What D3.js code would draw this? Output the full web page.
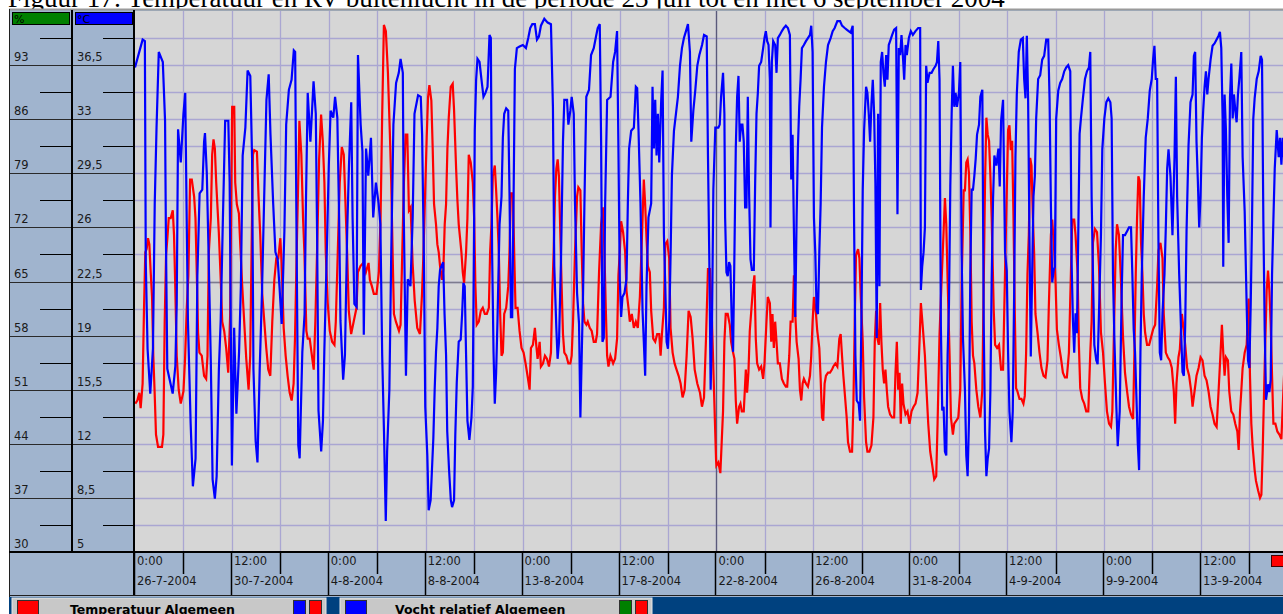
<!DOCTYPE html>
<html>
<head>
<meta charset="utf-8">
<script src="https://cdn.jsdelivr.net/npm/d3@7"></script>
<style>
  html, body { margin: 0; padding: 0; background: #fff; }
  svg { display: block; font-family: "DejaVu Sans", Verdana, sans-serif; }
</style>
</head>
<body>
<svg id="chart" width="1283" height="614"></svg>
<script>
// ---- data ----
const TITLE = "Figuur 17:  Temperatuur en RV buitenlucht in de periode 23 juli tot en met 6 september 2004";
const START = new Date(2004, 6, 26, 0, 0);
const HOURS_SHOWN = 1279.5;          // hours visible in the window
const GRID_STEP_HOURS = 54;          // vertical grid every 2.25 days
const LABEL_STEP_HOURS = 108;        // labelled ticks every 4.5 days
const CURSOR_HOUR = 648;             // 22-8-2004 0:00
const CURSOR_RH = 65;

const rhLabels = [30, 37, 44, 51, 58, 65, 72, 79, 86, 93];
const tempLabels = [5, 8.5, 12, 15.5, 19, 22.5, 26, 29.5, 33, 36.5];
const rhDomain = [30, 100];
const tempDomain = [5, 40];

const legendItems = [
  { name: "Temperatuur Algemeen", color: "#ff0000", flags: ["#0000ff", "#ff0000"] },
  { name: "Vocht relatief Algemeen", color: "#0000ff", flags: ["#008000", "#ff0000"] }
];

// [hours since 26-7-2004 0:00, relative humidity %]
const humidity = [
[0,92.7],[8.5,96.3],[11,96.1],[12,67.5],[14,56.3],[17,50.5],[20,56.3],[22,75.1],[24,84.9],[26.5,94.7],[31,93.4],[33.5,85.8],[34.5,70.2],[36,53.7],[42,50.5],[45,54.1],[46.5,62.1],[48,84.7],[51,80.4],[54,86.7],[56,89.4],[57.5,74.2],[59,59.9],[62,46.7],[64.5,38.5],[67.5,42.1],[69.5,65.7],[72,76.4],[75,76.9],[77,83.1],[78,84.2],[80,79.1],[82,68.8],[84.5,54.6],[86.5,39.4],[89,36.9],[91,39.8],[93.5,53.7],[95.5,59.9],[98,73.3],[100.5,85.8],[104,85.8],[105.5,77.8],[108,41.2],[110.5,59],[113,47.9],[116,55.9],[118,64.4],[120,81.3],[123,84.9],[125.5,92.3],[128.5,91.6],[130.5,80.9],[132,53.7],[134.5,44.3],[136.5,41.6],[139,53.7],[141.5,63.5],[144,76],[146.5,88.5],[149,91.8],[151,84],[154,75.1],[156.5,68.8],[159,67.9],[161,64.4],[163.5,59.5],[166.5,71.5],[168.5,85.3],[171.5,89.8],[174.5,91.1],[177,94.9],[178.5,94.7],[180,71.5],[182,43.8],[183.5,42.1],[186.5,55.9],[189,60.8],[190.5,75.1],[192.5,89.4],[195.5,83.1],[199,90.9],[201.5,86.7],[203,70.6],[204.5,48.3],[207.5,43],[209.5,47],[211,55.9],[213.5,67.5],[216,80],[218,87.1],[221,86.2],[223,88.9],[225.5,86.2],[227.5,73.3],[229,59.9],[232,52.3],[234,55.5],[236.5,71.5],[238.5,80],[241,88.2],[242.5,73.3],[244.5,62.1],[247,61.7],[248.5,94.3],[251.5,85.3],[253.5,81.8],[255,58.1],[257.5,82.2],[260,78.7],[263,83.6],[265.5,73.3],[268.5,77.8],[271.5,75.1],[273.5,72.4],[275.5,55.5],[277.5,45.6],[279.5,34],[281,43],[283.5,51],[285.5,67.9],[288,85.3],[291,90.7],[294,92],[296,93.8],[298.5,92],[299.5,74.2],[302,52.8],[304,65.3],[307,64.4],[309.5,73.3],[311.5,86.7],[315.5,89.1],[318.5,88.9],[320,84],[322,67.9],[323.5,48.8],
[325.8,42.5],[327.3,35.4],[329.5,36.7],[331,40.7],[332.5,44.7],[334,51],[335.5,55.9],[337,59],[338.5,64.4],[340,66.5],[341.5,67],[343.5,67.5],[345,60.8],[346.7,55.5],[348,45.6],[350,40.7],[352,36.7],[353.4,35.8],[355.6,36.7],[357,45.2],[358.6,51.9],[360.8,57.2],[363,57.5],[364.6,60.8],[366,64.8],[367.5,64.4],[369,55.5],[370.5,47],[372.7,44.5],[375,47.4],[376.5,51.4],[378,73.3],[378.7,84.5],[380.2,91.1],[381.7,93.8],[384,93.4],[386.2,91.1],[388.4,88.9],[390.6,89.4],[392.9,90.2],[395.1,96.9],[396.6,96.5],[398,68.8],[399.6,55.9],[401,49.2],[402.5,53.2],[404,59.9],[406.3,72.4],[408.5,76],[410,83.6],[411.5,86.7],[413.7,87.4],[416,87.1],[417.4,76.4],[419,60.4],[420.4,60.4],[422,76.4],[423.4,92.5],[425.6,95.2],[428.6,95.4],[432.3,95.6],[435.7,95.2],[438.3,96.5],[440.5,97.8],[442.8,98.3],[445.7,98.3],[448,96.3],[450.2,96.7],[452.4,98.1],[456.2,99],[459.9,98.5],[463.6,98.3],[465.8,87.6],[467.3,67],[469.6,59],[471,55],[472.6,57.2],[474.8,67.9],[477,83.1],[478.5,88.5],[481.5,88.5],[483,85.3],[485.2,87.1],[486.7,88.9],[489,86.7],[490.4,75.1],[492.7,63.5],[494.9,59.5],[496.4,47.4],[497.9,55.5],[499.4,63.5],[500.9,75.1],[503,88.9],[506,89.8],[508.3,94.3],[511.3,95.2],[513.5,96.5],[515.7,97.8],[518,98.3],[519.5,83.1],[521,57.2],[522.5,57.7],[524,75.1],[526.2,88.5],[530,88.9],[532.9,93.4],[535.1,94.7],[537.3,97.4],[538.8,82.2],[540.3,65.3],[541.8,60.4],[543.3,63],[545.5,63.5],[547.8,65.3],[549.3,75.1],[550.7,82.2],[553,84.5],[556,84.9],[558.2,90.2],[559.7,90],[561.2,84.5],[563.4,75.1],[565.7,61.2],[567.1,57.2],[568.6,52.8],[570.1,64.4],[572.3,73.3],[575.3,75.1],[576.8,90.2],[578.3,82.2],[579.8,88.5],[581.3,81.3],[582.8,86.7],[584.3,80.4],[586.5,88.5],[588,92.3],[589.5,71.1],[591,64.4],[592.5,57.2],[594,56.3],[595.5,59.9],[597,68.8],[598.4,78.7],[600.7,84.5],[602.9,86.7],[605.1,88.9],[607.4,92.9],[609.6,95.2],[611.8,96.5],[614.1,97.4],[616.3,98.3],[618.5,94.7],[620,83.1],[622.3,87.1],[624.5,89.8],[626.7,92.9],[629,94.3],[632,95.6],[634.2,96.9],[637.2,96.7],[638.6,81.3],[640.1,67.9],[641.6,51],[643.1,59.9],[644.6,76.9],[646.8,84.9],
[648,84.9],[650.2,84.9],[651.7,85.3],[653.2,88.9],[655.4,92],[656.9,86.7],[657.7,73.3],[659.2,66.2],[660.6,65.7],[662.1,67.5],[663.6,67],[665.1,59.9],[666.6,55.9],[668.1,68.8],[669.6,82.2],[671.1,88.9],[672.6,91.6],[674,83.1],[675.5,85.3],[677,85.3],[678.5,83.1],[680,74.6],[681.5,74.6],[683,88.9],[684.5,76],[686,67.9],[687.5,66.5],[689.7,66.5],[691.2,77.8],[692.7,86.7],[694.2,89.4],[695.6,92.9],[697.9,93.4],[700.1,95.2],[701.6,96.5],[703.1,97.4],[704.6,96.1],[706.1,95.6],[707.6,91.1],[708.3,72],[709.8,93.4],[711.3,96.1],[713.5,95.6],[715,92],[716.5,96.5],[718.7,96.9],[721,97.4],[723.2,97.8],[725.4,98.1],[727.7,97.8],[729.9,96.9],[731.4,78.2],[732.9,84],[734.4,71.5],[735.9,60.4],[737.4,73.3],[738.8,82.2],[740.3,87.6],[741.8,91.1],[743.3,95.2],[745.5,95.6],[747.8,96.1],[750,96.5],[752.3,96.9],[753.7,98.1],[755.2,94.7],[756.7,73.3],[758.2,68.8],[759.7,61.2],[761.2,60.8],[762.7,68.8],[764.2,75.1],[765.7,84.9],[767.9,90.2],[770.1,93.4],[772.4,95.6],[775.3,96.5],[777.6,97.4],[779.8,97.8],[782.8,98.7],[785.8,98.7],[788,98.1],[791,97.8],[793.2,97.6],[795.4,97.4],[797.7,97.2],[799.9,98.1],[801.4,73.3],[802.9,55.5],[804.4,49.6],[806.6,49.2],[808.1,47],[809.6,59.9],[811.1,76.9],[812.6,84.5],[814.8,90.2],[816.3,89.4],[817.8,86.7],[819.3,83.1],[820.8,88],[822.3,91.1],[823.8,86.7],[825.2,77.8],[826.7,57.7],[828.2,86.7],[829.7,64.4],[831.2,93.4],[832.7,94.7],[834.2,92],[835.7,90.2],[837.2,94.3],[838.6,91.1],[840.1,95.6],[841.6,96.1],[843.9,96.9],[846.1,97.6],[848.3,97.8],[849.8,73.7],[851.3,95.2],[852.8,94.3],[854.3,96.9],[855.8,94.3],[857.3,91.1],[858.8,95.6],[860.2,94.3],[862.5,96.5],[864.7,97.4],[867,96.9],[869.9,97.4],[872.9,97.8],[875.1,97.8],[875.9,63.9],[877.4,67],[878.9,68.8],[880.4,72],[881.8,92.9],[883.3,90.7],[885.6,92],[887.8,92],[890,92.5],[892.3,92.9],[893.8,93.4],[895.3,96.1],[896.7,91.1],[898.2,59],[899.7,48.3],[901.2,48.8],[902.7,43],[904.2,42.5],[905.7,55.5],[907.2,62.1],[908.7,77.3],[910.2,86.7],[911.6,92.9],[913.1,87.6],[914.6,89.4],[916.1,87.6],[918.3,89.4],[919.8,93.4],[921.3,68.8],[922.8,57.7],[925,51],[926.5,42.5],[928,39.8],[929.5,47],[931,66.2],[932.5,76.9],[934,76.9],[935.5,78.7],[937,80.9],[938.5,84],[940.7,85.3],[942.2,88.9],[944.4,89.8],[945.9,59.9],[947.4,45.6],[948.9,39.8],[950.4,42.1],[951.9,43.4],[953.4,51],[954.8,65.3],[956.3,75.5],[957.8,81.3],[960,80],[962.3,82.2],[963.8,77.3],[965.3,85.8],[967.5,88.5],[969.7,68.8],
[971.6,66.4],[973.1,55.8],[974.6,48.2],[976.8,44.2],[978.3,48.2],[979.8,62.9],[981.3,81.1],[982.8,89.2],[985,94.7],[987.3,96.3],[989.5,96.5],[991,91.2],[992.5,88.7],[994,96.8],[995.4,88.7],[996.9,71],[998.4,55.3],[999.9,65.9],[1001.4,76],[1002.9,78.6],[1004.4,86.1],[1006.6,91.2],[1008.9,91.7],[1011.1,93.7],[1013.3,94.2],[1015.6,96.3],[1017.8,96.3],[1019.3,88.7],[1020.8,75],[1022.3,64.9],[1023.8,66.4],[1025.2,66.9],[1026.7,86.1],[1029,89.7],[1031.2,90.7],[1033.4,91.2],[1035.7,92.2],[1037.9,92.7],[1040.1,93],[1042.4,92.2],[1043.9,67.4],[1045.4,59.8],[1046.8,55.8],[1048.3,60.9],[1049.8,58.3],[1051.3,71],[1052.8,84.1],[1054.3,86.1],[1056.5,88.7],[1058.8,91.2],[1061,92.2],[1063.2,92.7],[1064.7,94.7],[1066.2,76],[1067.7,65.9],[1069.2,56.8],[1071.4,54.8],[1072.9,54.3],[1074.4,60.9],[1076.6,71],[1078.1,82.1],[1080.4,86.1],[1082.6,88.2],[1084.8,88.7],[1087.1,88.2],[1088.5,86.1],[1090,65.9],[1091.5,57.8],[1093.8,48.7],[1095.3,43.7],[1097.5,48.2],[1099.7,63.4],[1101.2,71],[1103.4,71],[1105.7,71.5],[1107.9,72],[1110.1,72],[1111.6,65.9],[1113.1,58.8],[1114.6,55.8],[1116.1,50.2],[1117.6,44.2],[1119.1,40.6],[1120.6,55.8],[1122.1,65.9],[1124.3,76],[1126.5,83.6],[1128.8,86.1],[1131,89.7],[1133.2,91.2],[1134.7,93.7],[1136.2,95.5],[1137.7,91.2],[1139.2,91.2],[1140.7,70],[1142.2,55.8],[1143.7,54.8],[1145.2,60.9],[1147.4,65.9],[1148.9,72],[1150.4,79.6],[1151.9,82.1],[1154.1,78.6],[1156.3,71],[1158.6,81.1],[1160.1,91.5],[1161.5,76],[1163.8,65.9],[1166,58.3],[1167.5,53.3],[1169,52.8],[1170.5,59.3],[1172,71.5],[1174.2,82.6],[1176.4,88.2],[1178.7,89.2],[1180.2,94.2],[1181.6,94.7],[1183.1,83.1],[1184.6,78],[1186.1,72],[1187.6,76],[1189.1,83.6],[1190.6,87.2],[1192.1,90.2],[1193.6,92.2],[1195.1,89.2],[1196.5,91.2],[1198.8,93.7],[1201,95.5],[1203.2,95.8],[1205.5,96.3],[1207.7,96.8],[1209.2,97.3],[1210.7,95.2],[1212.2,86.1],[1212.9,66.9],[1214.4,89.2],[1215.9,84.6],[1217.4,76],[1218.9,70],[1220.4,88.7],[1221.9,93.2],[1223.4,86.1],[1224.8,89.2],[1226.3,87.2],[1227.8,85.6],[1229.3,89.2],[1230.8,91.2],[1233,94.7],[1234.5,81.1],[1236.8,74],[1239,61.9],[1240.5,54.8],[1242,53.8],[1243.5,61.9],[1245,73],[1246.4,86.1],[1247.9,88.7],[1250.2,91.2],[1252.4,92.2],[1254.6,94.2],[1256.1,93.7],[1257.6,73],[1259.1,58.8],[1260.6,49.7],[1262.8,51.7],[1264.3,50.7],[1265.8,52.3],[1267.3,65.9],[1268.8,73],[1270.3,79.6],[1272.5,84.6],[1274.7,81.1],[1276.2,83.6],[1277.7,80.1],[1279.2,83.6],[1280.7,81.1],[1282.6,67.9]
];

// [hours since 26-7-2004 0:00, temperature °C]
const temperature = [
[0.3,14.6],[2.6,14.8],[4.8,15.3],[6.3,14.3],[8.5,15.9],[10,20.6],[11.5,24.4],[13,24.6],[14.5,25.3],[16,24.9],[17.5,23.1],[19,21.5],[20.4,17.7],[21.9,15.3],[23.4,12.6],[25.7,11.8],[30.1,11.8],[31.6,12.6],[33.1,19.9],[34.6,24.2],[36.1,25.3],[37.6,26.6],[39.8,26.6],[42.1,27.1],[43.5,25.5],[44.7,22.6],[46.5,17.7],[48.7,15.5],[51,14.6],[54,15.4],[55.8,17.5],[57.7,20.8],[59.5,22.9],[61.4,29.1],[63.3,29.1],[65.9,28],[67.4,26.6],[68.9,22.9],[70.3,19.2],[71.8,17.9],[74.4,17.7],[77,16.4],[79.3,16.2],[80.8,17.7],[82.3,24.4],[84.5,26.6],[86,30.7],[87.5,31.7],[89,31.1],[90.5,28.9],[93.4,25.7],[95.7,22.4],[97.2,19.9],[99.4,19.3],[101.6,18.2],[103.9,16.6],[106.1,20.4],[107.2,27.5],[108.3,33.8],[110.6,33.8],[111.7,28.9],[113.5,27.5],[115.8,26.9],[117.3,24.9],[119.5,22.2],[121.7,19.9],[124,17.5],[126.6,15.5],[128.4,17.7],[129.9,24.4],[131.4,30.7],[132.9,31],[135.9,30.9],[137.7,28],[139.6,25.5],[141.8,21.7],[144.1,19.9],[146.3,18.2],[148.5,16.8],[150.8,16.4],[153,19.9],[155.3,22.6],[157.5,24],[159.7,24],[162,25.3],[163.4,23.7],[165.7,19.5],[167.9,17.7],[170.1,16.4],[172.4,15.3],[174.6,14.8],[176.8,15.9],[178.3,18.8],[180.6,25.5],[182.1,29.5],[183.2,32.9],[185.4,30.7],[187.3,26.6],[188.8,24.4],[191,19.3],[192.5,18.8],[194.7,18.8],[199.2,16.8],[201,19.9],[202.9,24.4],[205.2,30.4],[207.4,33.3],[209.3,31.6],[211.1,28.9],[212.6,24.4],[214.8,21.1],[217.1,19.3],[219.7,18.6],[222.3,18.4],[223.8,19.9],[226,24.4],[228.2,28.9],[230.5,31.2],[232.7,30.7],[234.6,27.5],[236.4,24.4],[238.3,20.6],[240.9,19.1],[246.9,20.8],[248.4,23.1],[251.3,23.5],[254.3,23.7],[257.3,23.1],[260.3,23.7],[261.8,22.6],[264,22.2],[266.2,21.7],[269.2,21.7],[271.8,23.1],[273.7,26.6],[275.5,33.3],[277.4,39.1],[279.6,38.7],[281.9,36],[284.1,32],[285.6,28.9],[287.1,24.4],[288.6,20.4],[290.8,19.9],[294.2,19.3],[296,19.7],[297.9,24.4],[299.7,28.9],[301.6,32],[303.5,32],[305.3,27.1],[307.2,27.3],[309.4,23.7],[311.7,21.3],[314.6,19.5],[317.6,19.1],[319.9,21.7],[321.3,24],
[325.1,31.8],[326.6,34.4],[328.1,35.2],[330.3,34.2],[331.8,31.1],[333.3,27.5],[335.5,26.2],[337,24.9],[338.5,24.4],[340,23.5],[342.2,22.6],[343.7,23.3],[345.2,26.2],[346.7,27.5],[348.2,31.1],[349.7,33.1],[351.9,35.1],[354.1,35.3],[355.6,33.6],[357.9,29.8],[359.3,27.8],[360.8,26.2],[362.3,25.3],[363.8,24.4],[365.3,23.1],[366.8,22.4],[369,24.4],[370.5,26.6],[372,30.7],[374.2,30.2],[376.5,28.9],[378,26.6],[379.4,22.2],[380.9,19.7],[383.2,19.9],[385.4,20.6],[387.6,20.8],[389.9,20.4],[392.1,20.4],[394.4,20.8],[395.8,24.4],[397.3,26.2],[398.8,29.3],[401,30],[402.5,28.4],[404,26.6],[405.5,24.4],[407,20.4],[408.5,17.7],[410,17.9],[411.5,20.4],[413.7,20.8],[416,22.2],[417.4,24.4],[418.9,28.2],[421.2,28.2],[422.6,24.4],[424.1,20.8],[426.4,20.8],[428.6,19.3],[430.8,18.2],[433.1,17.9],[435.3,17.2],[437.5,16.4],[439.8,15.5],[441.3,18.2],[443.5,18.4],[445.7,19.5],[447.2,18.4],[448.7,17.5],[451,18.6],[452.4,17],[454.7,17.2],[456.9,17.7],[459.1,17.5],[461.4,17],[463.6,17.9],[465.1,21.7],[466.6,24.4],[468.1,28],[469.6,29.8],[471.1,30.4],[472.5,29.3],[474,25.7],[475.5,22.2],[477,19.1],[478.5,17.9],[480.7,17.7],[483,17.2],[485.2,17.2],[486.7,17.7],[488.2,19.9],[490.4,24.4],[492.7,28],[494.1,28.6],[496.4,28.4],[497.9,24.4],[499.4,21.1],[500.9,19.9],[503.1,19.7],[504.6,19.9],[506.8,19.5],[509,19.3],[511.3,18.6],[513.5,18.6],[515,19.1],[517.2,23.1],[519.5,26.2],[521.7,27.3],[523.2,24.4],[524.7,20.8],[526.2,17.7],[527.7,17],[529.9,17.7],[532.9,17.2],[535.1,17.5],[537.3,18.8],[538.8,22.9],[540.3,24.4],[541.8,26.4],[544,25.7],[546.3,24.4],[547.8,21.9],[550,20.8],[551.5,19.9],[553.7,20.4],[556,19.5],[558.2,19.9],[560.4,19.5],[562.7,21.5],[564.2,24],[565.7,26.6],[567.1,29.1],[568.6,27.5],[570.1,25.3],[571.6,23.5],[573.8,23.1],[575.3,20.6],[577.6,18.8],[579.8,18.6],[582,19.1],[584.3,19.1],[585.8,17.7],[587.3,19.1],[589.5,20.8],[591,24.9],[593.2,25.1],[595.4,24],[596.9,19.5],[599.2,17.9],[601.4,17.2],[603.6,16.8],[605.9,16.4],[608.1,15.9],[610.3,15],[612.6,15.5],[614.8,17.7],[617,20.6],[619.3,20.2],[621.5,18.8],[623.8,16.8],[626.7,15.9],[629.7,15.3],[631.9,14.4],[634.2,15],[636.4,18.8],[638.6,23.3],[640.9,23.3],[643.1,19.9],[645.3,15.5],[647.6,11],
[648,10.6],[650.2,10.8],[652.4,10.1],[653.9,12.1],[655.4,14.1],[656.9,18.6],[658.4,20.4],[660.6,20.4],[662.9,19.7],[664.4,18.6],[666.6,17.9],[668.1,17.5],[669.6,14.8],[671.1,13.3],[673.3,14.4],[674.8,14.6],[676.3,14.1],[678.5,14.1],[680.8,16.8],[682.2,15.3],[683.7,16.6],[685.2,19.3],[687.5,21.1],[688.9,22.2],[690.4,22.9],[691.9,18.8],[693.4,17.2],[695.6,16.8],[697.9,17],[700.1,16.2],[701.6,17.2],[703.8,19.9],[705.3,21.5],[707.6,21.1],[709.1,18.6],[710.5,20.4],[712,18.2],[713.5,19.9],[715,18.6],[716.5,17.2],[718.7,17.2],[721,16.2],[723.2,15.9],[725.4,15.7],[726.9,15.7],[729.2,17.7],[730.7,19.9],[732.9,19.9],[734.4,22.9],[735.9,20.4],[737.4,18.6],[739.6,17.5],[741.1,15.5],[742.6,14.8],[744.1,15.9],[745.5,16.2],[747.8,15.9],[750,15.7],[752.3,16.4],[753.7,17.7],[755.2,19.9],[756.7,21.5],[759,20.4],[760.4,19.3],[762.7,18.2],[764.2,16.2],[765.7,13.7],[767.1,13.5],[768.6,15.9],[770.1,16.4],[772.4,16.6],[774.6,16.6],[776.8,16.8],[778.3,17],[780.6,17.2],[782.8,17],[785,18.8],[786.5,19.1],[788,17.7],[789.5,16.4],[791.7,14.8],[793.2,13.7],[794.7,12.1],[796.9,11.5],[799.2,11.5],[800.7,14.6],[802.2,19.9],[803.6,24.2],[805.9,24.6],[807.4,24],[808.9,21.5],[811.1,18.6],[812.6,15],[814.8,12.1],[816.3,11.5],[818.5,11.5],[820.8,11.9],[823,13.7],[824.5,18.6],[826,20.6],[827.5,18.8],[829,18.4],[830.5,21.1],[831.9,18.6],[833.4,16.8],[834.9,15.9],[836.4,16.8],[837.9,15.5],[839.4,14.4],[841.6,13.9],[843.9,13.7],[846.1,13.7],[847.6,16.6],[849.1,18.6],[850.6,15.5],[852.1,16.6],[853.5,13.3],[855,15.9],[856.5,14.6],[858.8,13.9],[861,14.1],[863.2,13.3],[865.5,14.1],[867.7,14.4],[869.9,14.6],[872.2,15.3],[874.4,18.6],[875.9,21.1],[878.1,19.5],[880.4,17.7],[881.8,15.9],[884.1,13.3],[886.3,11.5],[888.6,10.6],[890.8,9.7],[893,9.9],[894.5,13.3],[896.7,19.1],[899,22.6],[901.2,25.7],[902.7,27.9],[904.2,26.2],[905.7,22.6],[907.9,17.7],[909.4,13.7],[911.6,12.6],[913.1,13.3],[915.4,13.5],[917.6,13.7],[919.8,15.5],[921.3,22.2],[923.6,28.4],[925,28.4],[926.5,30.2],[928,30.4],[929.5,29.5],[931,25.7],[932.5,19.9],[934,17.7],[935.5,17.2],[937.7,15.5],[939.9,14.4],[942.2,13.7],[944.4,15.5],[945.9,22.2],[947.4,28.9],[948.9,33.1],[950.4,32],[951.9,31.6],[953.4,29.3],[954.8,26.6],[957.1,20.6],[958.6,18.4],[960.8,18.2],[963,18.4],[965.3,16.8],[967.5,16.8],[969.7,23.1],
[973.1,32.3],[974.6,32.6],[976.1,31],[977.6,31.6],[979.1,26.7],[980.6,20.4],[982,15.6],[983.5,15.4],[985.8,14.9],[988,14.9],[990.2,14.6],[991.7,15.1],[993.2,17.9],[994.7,23],[996.2,25.5],[997.7,30.5],[999.2,30],[1000.7,26.7],[1002.2,24.2],[1003.6,20.4],[1005.9,19.2],[1008.1,17.9],[1010.3,16.9],[1012.6,16.4],[1014.8,16.3],[1017,17.4],[1018.5,20.9],[1020.8,25.5],[1022.3,26.5],[1024.5,24.5],[1026,22.4],[1027.5,19.4],[1029.7,18.4],[1031.9,17.6],[1034.2,16.6],[1036.4,16.3],[1038.6,16.3],[1040.9,17.9],[1043.1,23],[1044.6,26.5],[1046.8,26.5],[1048.3,25.5],[1050.6,23],[1052,18.4],[1053.5,15.6],[1055.8,14.9],[1058,14.6],[1060.2,14.1],[1062.5,14.1],[1064.7,17.9],[1066.2,19.9],[1067.7,25],[1069.9,25.9],[1072.2,25.7],[1074.4,23.5],[1076.6,19.2],[1078.9,17.9],[1081.1,15.9],[1083.3,14.1],[1085.6,13.3],[1087.8,13.1],[1089.3,14.1],[1091.5,20.4],[1093,24.5],[1094.5,26.2],[1096.7,25.5],[1099,22.4],[1101.2,18.9],[1103.4,16.6],[1105.7,15.4],[1107.9,14.4],[1110.1,13.9],[1112.4,13.6],[1113.9,17.9],[1115.4,23],[1116.8,26.5],[1118.3,29.3],[1119.8,29],[1121.3,25],[1122.8,23],[1124.3,20.4],[1125.8,19.2],[1128,18.4],[1130.3,18.4],[1132.5,18.9],[1134.7,19.4],[1137,19.7],[1139.2,22.2],[1140.7,24.5],[1142.9,25],[1145.2,24],[1146.6,20.4],[1148.9,17.9],[1151.1,17.6],[1153.3,17.4],[1155.6,16.9],[1157.8,15.4],[1159.3,13.3],[1160.8,15.9],[1163,17.6],[1164.5,18.1],[1166.8,20.4],[1168.2,19.7],[1170.5,18.4],[1172.7,16.9],[1174.9,16.4],[1177.2,15.4],[1178.7,14.4],[1180.9,15.4],[1183.1,16.4],[1185.4,16.9],[1187.6,17.6],[1189.8,17.4],[1192.1,16.4],[1194.3,16.1],[1196.5,15.4],[1198.8,14.4],[1201,13.9],[1203.2,13.3],[1205.5,13.1],[1207.7,15.4],[1209.9,17.9],[1211.4,19.7],[1212.9,17.9],[1214.4,16.4],[1215.9,17.6],[1218.1,17.4],[1219.6,15.4],[1221.9,14.1],[1224.1,13.9],[1226.3,13.3],[1228.6,12.8],[1230.1,11.6],[1231.6,14.1],[1233,15.4],[1234.5,16.9],[1236.8,17.9],[1239,18.4],[1241.2,21.4],[1242.7,16.4],[1244.2,13.3],[1245.7,11.8],[1247.9,10.3],[1249.4,9.6],[1251.7,9],[1253.9,8.5],[1255.4,8.7],[1256.9,11.6],[1258.4,15.4],[1259.9,18.9],[1261.3,21.9],[1262.8,23.2],[1264.3,21.9],[1265.8,19.7],[1267.3,16.4],[1268.8,13.3],[1271,13.3],[1273.2,12.8],[1275.5,12.6],[1277.7,12.3],[1279.9,15.4],[1281.4,17.4],[1282.6,17.9]
];

// ---- layout ----
const W = 1283, H = 614;
const plot = { left: 135, right: 1283, top: 11, bottom: 552 };
const PANEL_BG = "#a0b4ce";
const PLOT_BG = "#d6d6d6";
const GRID = "#aaa6d2";
const NAVY = "#00417f";
const LABEL_FONT = 11.5;

const svg = d3.select("#chart");
const atHour = h => new Date(START.getTime() + h * 3600e3);

const x = d3.scaleTime().domain([START, atHour(HOURS_SHOWN)]).range([plot.left, plot.right]);
const yRH = d3.scaleLinear().domain(rhDomain).range([plot.bottom, plot.top]);
const yT = d3.scaleLinear().domain(tempDomain).range([plot.bottom, plot.top]);
const commaNum = v => String(v).replace(".", ",");

// title, partly hidden behind the frame like in the scan
svg.append("text")
  .attr("x", 8).attr("y", 7)
  .attr("font-family", "'Liberation Serif', 'Times New Roman', serif")
  .attr("font-size", 27)
  .text(TITLE);

// frame
svg.append("rect").attr("x", 9).attr("y", 9).attr("width", W - 9).attr("height", 589).attr("fill", PANEL_BG);
svg.append("line").attr("x1", 9).attr("x2", W).attr("y1", 9.5).attr("y2", 9.5)
  .attr("stroke", "#9a9a9a").attr("stroke-width", 2);
svg.append("line").attr("x1", 9.5).attr("x2", 9.5).attr("y1", 9).attr("y2", 597)
  .attr("stroke", "#202020");

// plot area
svg.append("rect")
  .attr("x", plot.left).attr("y", plot.top)
  .attr("width", plot.right - plot.left).attr("height", plot.bottom - plot.top)
  .attr("fill", PLOT_BG);

const gridG = svg.append("g");
gridG.selectAll(".hgrid")
  .data(d3.range(rhDomain[0] + 3.5, rhDomain[1], 3.5))
  .join("line")
  .attr("x1", plot.left).attr("x2", plot.right)
  .attr("y1", d => Math.round(yRH(d)) + 0.5).attr("y2", d => Math.round(yRH(d)) + 0.5)
  .attr("stroke", GRID).attr("stroke-width", 1.3);

const gridHours = d3.range(GRID_STEP_HOURS, HOURS_SHOWN, GRID_STEP_HOURS);
gridG.selectAll(".vgrid")
  .data(gridHours)
  .join("line")
  .attr("x1", d => Math.round(x(atHour(d))) + 0.5).attr("x2", d => Math.round(x(atHour(d))) + 0.5)
  .attr("y1", plot.top).attr("y2", plot.bottom)
  .attr("stroke", GRID).attr("stroke-width", 1.3);

// cursor lines
gridG.append("line")
  .attr("x1", plot.left).attr("x2", plot.right)
  .attr("y1", Math.round(yRH(CURSOR_RH)) + 0.5).attr("y2", Math.round(yRH(CURSOR_RH)) + 0.5)
  .attr("stroke", "#7d7b8e").attr("stroke-width", 1.3);
gridG.append("line")
  .attr("x1", Math.round(x(atHour(CURSOR_HOUR))) + 0.5).attr("x2", Math.round(x(atHour(CURSOR_HOUR))) + 0.5)
  .attr("y1", plot.top).attr("y2", plot.bottom)
  .attr("stroke", "#5a5a7a").attr("stroke-width", 1.3);

// series
svg.append("clipPath").attr("id", "plotClip").append("rect")
  .attr("x", plot.left).attr("y", plot.top)
  .attr("width", plot.right - plot.left).attr("height", plot.bottom - plot.top);

const tempLine = d3.line().x(d => x(atHour(d[0]))).y(d => yT(d[1]));
const rhLine = d3.line().x(d => x(atHour(d[0]))).y(d => yRH(d[1]));
const seriesG = svg.append("g").attr("clip-path", "url(#plotClip)");
seriesG.append("path").datum(temperature)
  .attr("d", tempLine).attr("fill", "none").attr("stroke", "#ff0000")
  .attr("stroke-width", 2.2).attr("stroke-linejoin", "miter");
seriesG.append("path").datum(humidity)
  .attr("d", rhLine).attr("fill", "none").attr("stroke", "#0000ff")
  .attr("stroke-width", 2.2).attr("stroke-linejoin", "miter");

// left value panels
function valuePanel(x0, x1, scale, labels, step, fmt, headColor, headText) {
  const g = svg.append("g");
  g.selectAll(".major").data(labels).join("line")
    .attr("x1", x0).attr("x2", x1)
    .attr("y1", d => Math.round(scale(d)) + 0.5).attr("y2", d => Math.round(scale(d)) + 0.5)
    .attr("stroke", "#2a2a2a");
  g.selectAll(".minor").data(labels.map(d => d + step / 2)).join("line")
    .attr("x1", x1 - 31).attr("x2", x1)
    .attr("y1", d => Math.round(scale(d)) + 0.5).attr("y2", d => Math.round(scale(d)) + 0.5)
    .attr("stroke", "#000");
  g.selectAll("text").data(labels).join("text")
    .attr("x", x0 + 4).attr("y", d => Math.round(scale(d)) - 4)
    .attr("font-size", LABEL_FONT).attr("fill", "#1a1a1a")
    .text(fmt);
  g.append("rect").attr("x", x0 + 2.5).attr("y", 12.5).attr("width", x1 - x0 - 4).attr("height", 12)
    .attr("fill", headColor).attr("stroke", "#000");
  g.append("text").attr("x", x0 + 4).attr("y", 23).attr("font-size", 11).attr("fill", "#000").text(headText);
}
valuePanel(10, 71, yRH, rhLabels, 7, d => d, "#008000", "%");
valuePanel(73, 134, yT, tempLabels, 3.5, commaNum, "#0000ff", "°C");
svg.append("line").attr("x1", 72).attr("x2", 72).attr("y1", 10).attr("y2", plot.bottom)
  .attr("stroke", "#000").attr("stroke-width", 2);
svg.append("line").attr("x1", 134).attr("x2", 134).attr("y1", 10).attr("y2", 595)
  .attr("stroke", "#000").attr("stroke-width", 2);

// time axis band
const axisTop = plot.bottom, axisBottom = 595;
svg.append("line").attr("x1", 9).attr("x2", W).attr("y1", axisTop).attr("y2", axisTop)
  .attr("stroke", "#000").attr("stroke-width", 2);
svg.append("line").attr("x1", 9).attr("x2", W).attr("y1", axisBottom + 0.5).attr("y2", axisBottom + 0.5)
  .attr("stroke", "#202020");

const labelHours = d3.range(0, HOURS_SHOWN, LABEL_STEP_HOURS);
const fmtTime = d3.timeFormat("%-H:%M");
const fmtDate = d3.timeFormat("%-d-%-m-%Y");
const axisG = svg.append("g");
axisG.selectAll(".sep").data(labelHours).join("line")
  .attr("x1", d => Math.round(x(atHour(d))) - 0.5).attr("x2", d => Math.round(x(atHour(d))) - 0.5)
  .attr("y1", axisTop).attr("y2", axisBottom)
  .attr("stroke", "#000").attr("stroke-width", 1.5);
axisG.selectAll(".mid").data(labelHours.map(h => h + GRID_STEP_HOURS).filter(h => h < HOURS_SHOWN)).join("line")
  .attr("x1", d => Math.round(x(atHour(d))) + 0.5).attr("x2", d => Math.round(x(atHour(d))) + 0.5)
  .attr("y1", axisTop).attr("y2", axisTop + 22)
  .attr("stroke", "#000").attr("stroke-width", 1.5);
axisG.selectAll(".tlab").data(labelHours).join("text")
  .attr("x", d => x(atHour(d)) + 2).attr("y", 565)
  .attr("font-size", LABEL_FONT).attr("fill", "#1a1a1a")
  .text(d => fmtTime(atHour(d)));
axisG.selectAll(".dlab").data(labelHours).join("text")
  .attr("x", d => x(atHour(d)) + 2).attr("y", 585)
  .attr("font-size", LABEL_FONT).attr("fill", "#1a1a1a")
  .text(d => fmtDate(atHour(d)));

// little red marker at the right end of the axis
svg.append("rect").attr("x", 1271.5).attr("y", 555.5).attr("width", 16).attr("height", 11)
  .attr("fill", "#ff0000").attr("stroke", "#400000");

// legend strip
svg.append("rect").attr("x", 9).attr("y", 597).attr("width", W - 9).attr("height", H - 597).attr("fill", NAVY);
const legendBoxes = [
  { x: 12, w: 314, text: 58, flag: 293 },
  { x: 340, w: 312, text: 55, flag: 619 }
];
legendItems.forEach((item, i) => {
  const b = legendBoxes[i];
  const g = svg.append("g");
  g.append("rect").attr("x", b.x).attr("y", 598).attr("width", b.w).attr("height", 20)
    .attr("fill", "#c8c8c8").attr("stroke", "#e8e8e8");
  g.append("rect").attr("x", b.x + 5.5).attr("y", 600.5).attr("width", 21).attr("height", 16)
    .attr("fill", item.color).attr("stroke", "#303030");
  g.append("text").attr("x", b.x + b.text).attr("y", 614)
    .attr("font-size", 12.5).attr("font-weight", "bold").attr("fill", "#000")
    .text(item.name);
  item.flags.forEach((c, k) => {
    g.append("rect").attr("x", b.flag + k * 16 + 0.5).attr("y", 600.5).attr("width", 12).attr("height", 16)
      .attr("fill", c).attr("stroke", "#303030");
  });
});
</script>
</body>
</html>
